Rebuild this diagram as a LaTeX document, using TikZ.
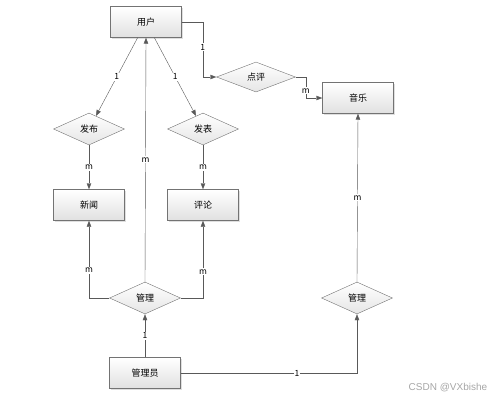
\documentclass[tikz,border=0pt]{standalone}
\usepackage{fontspec}
\setmainfont{Noto Sans CJK SC}
\newfontfamily\wmfont{Liberation Sans}
\usetikzlibrary{shapes.geometric,shadows,arrows.meta}

\begin{document}
\begin{tikzpicture}[x=1pt,y=-1pt,
    entity/.style={draw=black!55,top color=white,bottom color=black!12,
      minimum width=71pt,minimum height=31pt,font=\fontsize{9}{11}\selectfont,
      drop shadow={shadow xshift=1pt,shadow yshift=-1pt,opacity=.25}},
    rel/.style={diamond,draw=black!55,top color=white,bottom color=black!10,
      minimum width=71pt,minimum height=32pt,inner sep=0pt,font=\fontsize{9}{11}\selectfont},
    conn/.style={draw=black!65,-{Triangle[length=6pt,width=4.5pt]}},
    lbl/.style={fill=white,inner sep=1pt,font=\fontsize{8.5}{9}\selectfont}]
  \useasboundingbox (0,0) rectangle (499,400);
  \node[entity] (yonghu) at (146,22) {用户};
  \node[entity] (yinyue) at (358,98) {音乐};
  \node[entity] (xinwen) at (89,205) {新闻};
  \node[entity] (pinglun) at (203,205) {评论};
  \node[entity] (guanliyuan) at (145,373) {管理员};
  \node[rel,minimum width=79pt,minimum height=30pt] (dianping) at (256,77) {点评};
  \node[rel] (fabu) at (89,129) {发布};
  \node[rel] (fabiao) at (203,129) {发表};
  \node[rel] (guanliA) at (145,298) {管理};
  \node[rel] (guanliB) at (357,298) {管理};
  % user side
  \draw[conn] (yonghu) -- node[lbl]{1} (fabu);
  \draw[conn] (yonghu) -- node[lbl]{1} (fabiao);
  \draw[conn] (yonghu.east) -- ++(21,0) |- node[lbl,pos=0.23]{1} (dianping.west);
  \draw[conn] (dianping.east) -- ++(10,0) |- node[lbl,pos=0.33]{m} (yinyue.west);
  \draw[conn] (fabu) -- node[lbl]{m} (xinwen);
  \draw[conn] (fabiao) -- node[lbl]{m} (pinglun);
  % admin side
  \draw[conn] (guanliA.north) -- node[lbl]{m} (yonghu.south);
  \draw[conn] (guanliA.west) -| node[lbl,pos=0.68]{m} (xinwen.south);
  \draw[conn] (guanliA.east) -| node[lbl,pos=0.67]{m} (pinglun.south);
  \draw[conn] (guanliyuan.north) -- node[lbl]{1} (guanliA.south);
  \draw[conn] (guanliyuan.east) -| node[lbl,pos=0.33]{1} (guanliB.south);
  \draw[conn] (guanliB.north) -- node[lbl]{m} (yinyue.south);
  \node[text=black!35,font=\wmfont\fontsize{10}{12}\selectfont] (csdn) at (448,388) {CSDN @VXbishe};
\end{tikzpicture}
\end{document}
